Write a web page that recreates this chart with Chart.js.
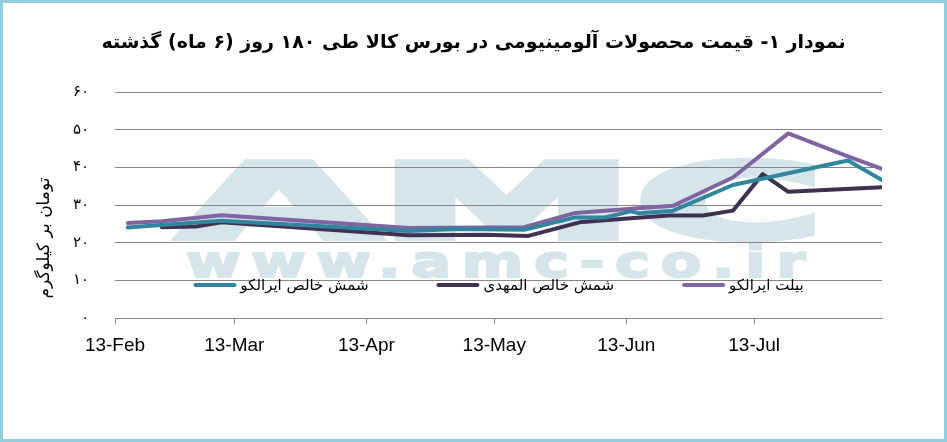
<!DOCTYPE html>
<html>
<head>
<meta charset="utf-8">
<title>Aluminium prices</title>
<script src="https://cdn.jsdelivr.net/npm/chart.js@4.4.0/dist/chart.umd.min.js"></script>
<style>
    html, body { margin: 0; padding: 0; background: #fff; }
    #wrap { width: 947px; height: 442px; box-sizing: border-box; border: 3px solid #92cddc; }
    canvas { display: block; }
</style>
</head>
<body>
<div id="wrap"><canvas id="chart" width="941" height="436"></canvas></div>
<script>
const chartTitle = 'نمودار ۱- قیمت محصولات آلومینیومی در بورس کالا طی ۱۸۰ روز (۶ ماه) گذشته';
const yAxisTitle = 'تومان بر کیلوگرم';
const seriesNames = ['شمش خالص ایرالکو', 'شمش خالص المهدی', 'بیلت ایرالکو'];

// x = days since 13-Feb
const xTickDays = [0, 28, 59, 89, 120, 150];
const xTickLabels = ['13-Feb', '13-Mar', '13-Apr', '13-May', '13-Jun', '13-Jul'];
const yTickLabels = ['۰', '۱۰', '۲۰', '۳۰', '۴۰', '۵۰', '۶۰'];

const iralcoDays   = [3, 10, 25, 69, 80, 96, 108, 115, 121, 123, 131, 145, 172, 180];
const iralcoValues = [24.0, 24.6, 25.8, 23.1, 23.6, 23.4, 26.7, 26.7, 28.3, 27.8, 28.5, 35.3, 41.8, 36.6];

const almahdiDays   = [11, 19, 25, 69, 87, 97, 109, 121, 130, 138, 145, 152, 158, 180];
const almahdiValues = [24.1, 24.3, 25.4, 22.0, 22.1, 21.8, 25.4, 26.5, 27.2, 27.2, 28.5, 38.2, 33.5, 34.7];

const billetDays   = [3, 11, 25, 69, 96, 108, 122, 131, 145, 158, 172, 180];
const billetValues = [25.2, 25.7, 27.3, 23.9, 24.1, 27.9, 29.1, 29.8, 37.3, 49.0, 42.9, 39.6];

const toPoints = (days, values) => days.map((d, i) => ({ x: d, y: values[i] }));

// AMC watermark behind grid and lines
const watermark = {
    id: 'watermark',
    beforeDraw(chart) {
        const ctx = chart.ctx;
        ctx.save();
        ctx.fillStyle = ctx.strokeStyle = '#d5e5ea';
        ctx.textBaseline = 'alphabetic';
        ctx.font = 'bold 104px "DejaVu Sans"';
        let w = ctx.measureText('AMC').width;
        ctx.translate(176, 235);
        ctx.scale(645 / w, 1);
        ctx.lineWidth = 6;
        ctx.lineJoin = 'miter';
        ctx.fillText('AMC', 0, 0);
        ctx.strokeText('AMC', 0, 0);
        ctx.restore();

        ctx.save();
        ctx.fillStyle = ctx.strokeStyle = '#d5e5ea';
        ctx.font = 'bold 44px "DejaVu Sans"';
        if ('letterSpacing' in ctx) ctx.letterSpacing = '8px';
        w = ctx.measureText('www.amc-co.ir').width;
        ctx.translate(183, 274);
        ctx.scale(630 / w, 1);
        ctx.lineWidth = 2;
        ctx.fillText('www.amc-co.ir', 0, 0);
        ctx.strokeText('www.amc-co.ir', 0, 0);
        ctx.restore();
    }
};

const axisTitle = {
    id: 'axisTitle',
    afterDraw(chart) {
        const ctx = chart.ctx;
        ctx.save();
        ctx.translate(42, 235);
        ctx.rotate(-Math.PI / 2);
        ctx.font = '17px "DejaVu Sans"';
        ctx.fillStyle = '#000';
        ctx.textAlign = 'center';
        ctx.textBaseline = 'middle';
        ctx.fillText(yAxisTitle, 0, 0);
        ctx.restore();
    }
};

// legend sits inside the plot, just above the x axis
const lineLegend = {
    id: 'lineLegend',
    afterDraw(chart) {
        const { ctx, chartArea } = chart;
        const sets = chart.data.datasets;
        const lineLen = 43, gap = 4, space = 68;
        ctx.save();
        ctx.font = '15px "DejaVu Sans"';
        const widths = sets.map(d => lineLen + gap + ctx.measureText(d.label).width);
        const total = widths.reduce((a, b) => a + b, 0) + space * (sets.length - 1);
        let x = (chartArea.left + chartArea.right) / 2 - total / 2;
        const y = chartArea.bottom - 33;
        sets.forEach((d, i) => {
            ctx.strokeStyle = d.borderColor;
            ctx.lineWidth = 4;
            ctx.lineCap = 'round';
            ctx.beginPath();
            ctx.moveTo(x + 2, y);
            ctx.lineTo(x + lineLen - 2, y);
            ctx.stroke();
            ctx.fillStyle = '#000';
            ctx.textAlign = 'left';
            ctx.textBaseline = 'middle';
            ctx.fillText(d.label, x + lineLen + gap, y + 1);
            x += widths[i] + space;
        });
        ctx.restore();
    }
};

new Chart(document.getElementById('chart'), {
    type: 'line',
    data: {
        datasets: [
            { label: seriesNames[0], data: toPoints(iralcoDays, iralcoValues), borderColor: '#31859c', backgroundColor: '#31859c' },
            { label: seriesNames[1], data: toPoints(almahdiDays, almahdiValues), borderColor: '#403152', backgroundColor: '#403152' },
            { label: seriesNames[2], data: toPoints(billetDays, billetValues), borderColor: '#8064a2', backgroundColor: '#8064a2' }
        ]
    },
    options: {
        responsive: false,
        animation: false,
        layout: { padding: 0 },
        elements: {
            point: { radius: 0 },
            line: { borderWidth: 4, tension: 0, borderJoinStyle: 'round', borderCapStyle: 'round' }
        },
        plugins: {
            legend: { display: false },
            tooltip: { enabled: false },
            title: {
                display: true,
                text: chartTitle,
                color: '#000',
                font: { family: 'DejaVu Sans', size: 19, weight: 'bold' },
                padding: { top: 28.6, bottom: 37.6 }
            }
        },
        scales: {
            x: {
                type: 'linear',
                min: 0,
                max: 180,
                afterBuildTicks: s => { s.ticks = xTickDays.map(v => ({ value: v })); },
                afterFit: s => { s.height = 121; },
                grid: { drawOnChartArea: false, drawTicks: true, tickLength: 6, color: '#868686' },
                border: { color: '#868686', width: 1 },
                ticks: {
                    callback: (v, i) => xTickLabels[i],
                    color: '#000',
                    font: { family: 'Liberation Sans', size: 19 },
                    padding: 10,
                    maxRotation: 0,
                    autoSkip: false
                }
            },
            y: {
                min: 0,
                max: 60,
                afterFit: s => { s.width = 112; },
                grid: { color: '#868686', drawTicks: false },
                border: { display: false },
                ticks: {
                    stepSize: 10,
                    callback: (v, i) => yTickLabels[i],
                    color: '#000',
                    font: { family: 'DejaVu Sans', size: 15 },
                    padding: 26
                }
            },
            // empty right-hand margin so the title stays centred on the page
            rightGap: {
                position: 'right',
                afterFit: s => { s.width = 62; },
                grid: { display: false },
                border: { display: false },
                ticks: { display: false }
            }
        }
    },
    plugins: [watermark, axisTitle, lineLegend]
});
</script>
</body>
</html>
